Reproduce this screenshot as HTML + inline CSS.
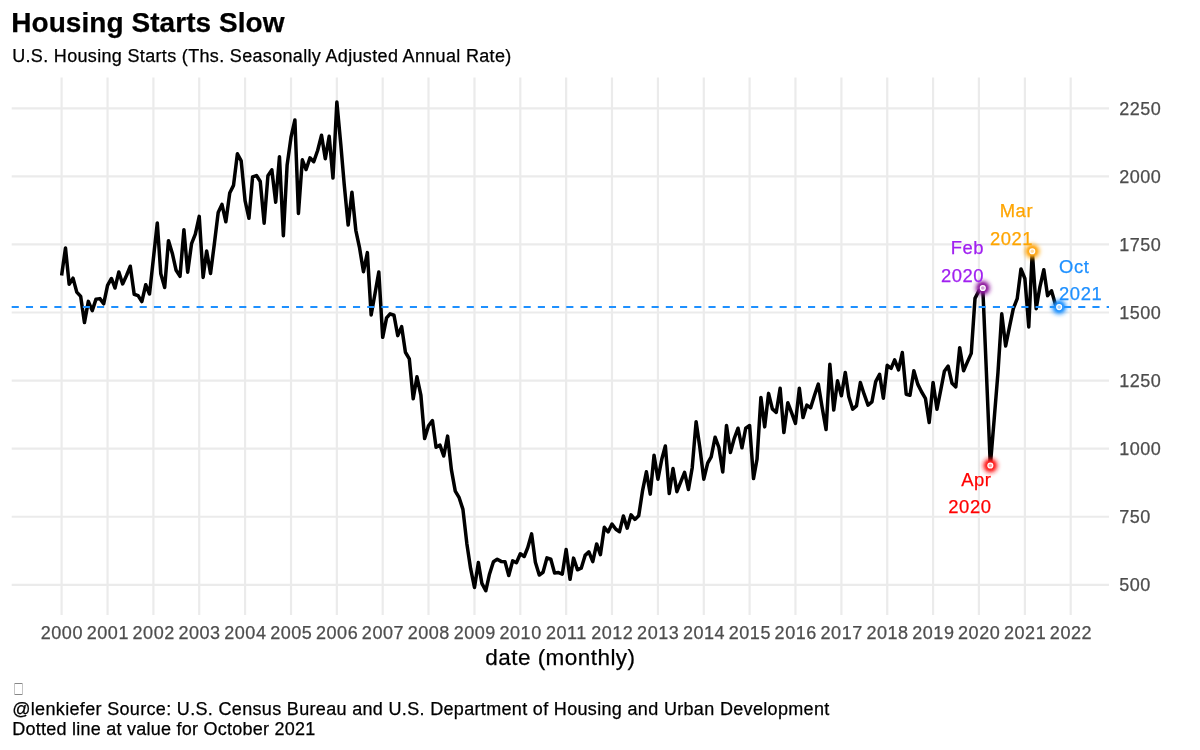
<!DOCTYPE html>
<html><head><meta charset="utf-8"><style>
html,body{margin:0;padding:0;background:#fff;}
body{width:1200px;height:750px;overflow:hidden;position:relative;font-family:"Liberation Sans",sans-serif;}
svg{position:absolute;left:0;top:0;will-change:transform;}
svg text{font-family:"Liberation Sans",sans-serif;stroke:currentColor;stroke-width:0.25px;}
</style></head><body>
<svg width="1200" height="750" viewBox="0 0 1200 750">
<defs><filter id="blur" x="-80%" y="-80%" width="260%" height="260%"><feGaussianBlur stdDeviation="0.9"/></filter><filter id="blur2" x="-80%" y="-80%" width="260%" height="260%"><feGaussianBlur stdDeviation="2.2"/></filter></defs>
<rect width="1200" height="750" fill="#fff"/>
<text x="11.20" y="31.70" font-size="28" letter-spacing="0.06" fill="#000" color="#000" font-weight="bold">Housing Starts Slow</text>
<text x="12.20" y="62.00" font-size="18" letter-spacing="0.33" fill="#000" color="#000">U.S. Housing Starts (Ths. Seasonally Adjusted Annual Rate)</text>
<g stroke="#EBEBEB" stroke-width="2.2"><line x1="61.60" y1="77.5" x2="61.60" y2="615"/><line x1="107.56" y1="77.5" x2="107.56" y2="615"/><line x1="153.39" y1="77.5" x2="153.39" y2="615"/><line x1="199.23" y1="77.5" x2="199.23" y2="615"/><line x1="245.06" y1="77.5" x2="245.06" y2="615"/><line x1="291.02" y1="77.5" x2="291.02" y2="615"/><line x1="336.85" y1="77.5" x2="336.85" y2="615"/><line x1="382.69" y1="77.5" x2="382.69" y2="615"/><line x1="428.52" y1="77.5" x2="428.52" y2="615"/><line x1="474.48" y1="77.5" x2="474.48" y2="615"/><line x1="520.32" y1="77.5" x2="520.32" y2="615"/><line x1="566.15" y1="77.5" x2="566.15" y2="615"/><line x1="611.98" y1="77.5" x2="611.98" y2="615"/><line x1="657.94" y1="77.5" x2="657.94" y2="615"/><line x1="703.78" y1="77.5" x2="703.78" y2="615"/><line x1="749.61" y1="77.5" x2="749.61" y2="615"/><line x1="795.45" y1="77.5" x2="795.45" y2="615"/><line x1="841.40" y1="77.5" x2="841.40" y2="615"/><line x1="887.24" y1="77.5" x2="887.24" y2="615"/><line x1="933.07" y1="77.5" x2="933.07" y2="615"/><line x1="978.91" y1="77.5" x2="978.91" y2="615"/><line x1="1024.87" y1="77.5" x2="1024.87" y2="615"/><line x1="1070.70" y1="77.5" x2="1070.70" y2="615"/><line x1="11.7" y1="584.80" x2="1109" y2="584.80"/><line x1="11.7" y1="516.73" x2="1109" y2="516.73"/><line x1="11.7" y1="448.65" x2="1109" y2="448.65"/><line x1="11.7" y1="380.58" x2="1109" y2="380.58"/><line x1="11.7" y1="312.51" x2="1109" y2="312.51"/><line x1="11.7" y1="244.44" x2="1109" y2="244.44"/><line x1="11.7" y1="176.37" x2="1109" y2="176.37"/><line x1="11.7" y1="108.29" x2="1109" y2="108.29"/></g>
<text x="1119.20" y="591.20" font-size="18" letter-spacing="0.55" fill="#4D4D4D" color="#4D4D4D">500</text><text x="1119.20" y="523.13" font-size="18" letter-spacing="0.55" fill="#4D4D4D" color="#4D4D4D">750</text><text x="1119.20" y="455.05" font-size="18" letter-spacing="0.55" fill="#4D4D4D" color="#4D4D4D">1000</text><text x="1119.20" y="386.98" font-size="18" letter-spacing="0.55" fill="#4D4D4D" color="#4D4D4D">1250</text><text x="1119.20" y="318.91" font-size="18" letter-spacing="0.55" fill="#4D4D4D" color="#4D4D4D">1500</text><text x="1119.20" y="250.84" font-size="18" letter-spacing="0.55" fill="#4D4D4D" color="#4D4D4D">1750</text><text x="1119.20" y="182.77" font-size="18" letter-spacing="0.55" fill="#4D4D4D" color="#4D4D4D">2000</text><text x="1119.20" y="114.69" font-size="18" letter-spacing="0.55" fill="#4D4D4D" color="#4D4D4D">2250</text>
<text x="61.88" y="639.20" font-size="18" letter-spacing="0.55" fill="#4D4D4D" color="#4D4D4D" text-anchor="middle">2000</text><text x="107.83" y="639.20" font-size="18" letter-spacing="0.55" fill="#4D4D4D" color="#4D4D4D" text-anchor="middle">2001</text><text x="153.67" y="639.20" font-size="18" letter-spacing="0.55" fill="#4D4D4D" color="#4D4D4D" text-anchor="middle">2002</text><text x="199.50" y="639.20" font-size="18" letter-spacing="0.55" fill="#4D4D4D" color="#4D4D4D" text-anchor="middle">2003</text><text x="245.34" y="639.20" font-size="18" letter-spacing="0.55" fill="#4D4D4D" color="#4D4D4D" text-anchor="middle">2004</text><text x="291.30" y="639.20" font-size="18" letter-spacing="0.55" fill="#4D4D4D" color="#4D4D4D" text-anchor="middle">2005</text><text x="337.13" y="639.20" font-size="18" letter-spacing="0.55" fill="#4D4D4D" color="#4D4D4D" text-anchor="middle">2006</text><text x="382.96" y="639.20" font-size="18" letter-spacing="0.55" fill="#4D4D4D" color="#4D4D4D" text-anchor="middle">2007</text><text x="428.80" y="639.20" font-size="18" letter-spacing="0.55" fill="#4D4D4D" color="#4D4D4D" text-anchor="middle">2008</text><text x="474.76" y="639.20" font-size="18" letter-spacing="0.55" fill="#4D4D4D" color="#4D4D4D" text-anchor="middle">2009</text><text x="520.59" y="639.20" font-size="18" letter-spacing="0.55" fill="#4D4D4D" color="#4D4D4D" text-anchor="middle">2010</text><text x="566.42" y="639.20" font-size="18" letter-spacing="0.55" fill="#4D4D4D" color="#4D4D4D" text-anchor="middle">2011</text><text x="612.26" y="639.20" font-size="18" letter-spacing="0.55" fill="#4D4D4D" color="#4D4D4D" text-anchor="middle">2012</text><text x="658.22" y="639.20" font-size="18" letter-spacing="0.55" fill="#4D4D4D" color="#4D4D4D" text-anchor="middle">2013</text><text x="704.05" y="639.20" font-size="18" letter-spacing="0.55" fill="#4D4D4D" color="#4D4D4D" text-anchor="middle">2014</text><text x="749.89" y="639.20" font-size="18" letter-spacing="0.55" fill="#4D4D4D" color="#4D4D4D" text-anchor="middle">2015</text><text x="795.72" y="639.20" font-size="18" letter-spacing="0.55" fill="#4D4D4D" color="#4D4D4D" text-anchor="middle">2016</text><text x="841.68" y="639.20" font-size="18" letter-spacing="0.55" fill="#4D4D4D" color="#4D4D4D" text-anchor="middle">2017</text><text x="887.51" y="639.20" font-size="18" letter-spacing="0.55" fill="#4D4D4D" color="#4D4D4D" text-anchor="middle">2018</text><text x="933.35" y="639.20" font-size="18" letter-spacing="0.55" fill="#4D4D4D" color="#4D4D4D" text-anchor="middle">2019</text><text x="979.18" y="639.20" font-size="18" letter-spacing="0.55" fill="#4D4D4D" color="#4D4D4D" text-anchor="middle">2020</text><text x="1025.14" y="639.20" font-size="18" letter-spacing="0.55" fill="#4D4D4D" color="#4D4D4D" text-anchor="middle">2021</text><text x="1070.98" y="639.20" font-size="18" letter-spacing="0.55" fill="#4D4D4D" color="#4D4D4D" text-anchor="middle">2022</text>
<text x="560.43" y="664.70" font-size="22.5" letter-spacing="0.45" fill="#000" color="#000" text-anchor="middle">date (monthly)</text>
<path d="M61.60,275.48 L65.49,247.98 L69.13,284.19 L73.03,278.20 L76.79,292.09 L80.69,296.44 L84.45,322.58 L88.35,301.35 L92.24,310.60 L96.01,299.17 L99.90,298.62 L103.67,303.80 L107.56,285.28 L111.45,278.47 L114.97,288.00 L118.86,271.94 L122.63,283.92 L126.52,275.48 L130.29,266.22 L134.18,294.27 L138.07,295.63 L141.84,301.62 L145.73,284.74 L149.50,293.99 L153.39,258.60 L157.29,222.93 L160.80,273.84 L164.69,287.46 L168.46,240.63 L172.35,253.42 L176.12,270.31 L180.01,276.30 L183.91,229.73 L187.67,272.21 L191.57,243.62 L195.33,234.09 L199.23,216.39 L203.12,277.38 L206.64,250.97 L210.53,273.57 L214.30,244.17 L218.19,212.58 L221.96,204.41 L225.85,221.84 L229.74,192.97 L233.51,185.35 L237.40,153.76 L241.17,160.84 L245.06,200.60 L248.95,218.30 L252.60,176.91 L256.49,175.55 L260.26,181.54 L264.15,223.20 L267.92,175.82 L271.81,169.83 L275.70,202.23 L279.47,156.76 L283.36,235.72 L287.13,164.93 L291.02,137.16 L294.91,120.00 L298.43,213.40 L302.32,159.76 L306.09,169.56 L309.98,157.85 L313.75,161.66 L317.64,150.50 L321.53,135.25 L325.30,158.67 L329.19,136.34 L332.96,178.00 L336.85,102.03 L340.75,143.96 L344.26,184.81 L348.16,225.10 L351.92,192.16 L355.82,230.28 L359.58,247.98 L363.48,271.67 L367.37,252.61 L371.14,314.96 L375.03,293.45 L378.80,271.94 L382.69,337.29 L386.58,317.96 L390.10,313.87 L393.99,315.23 L397.76,335.65 L401.65,326.67 L405.42,352.26 L409.31,358.80 L413.20,398.83 L416.97,376.77 L420.86,395.01 L424.63,438.58 L428.52,425.78 L432.42,420.61 L436.06,447.29 L439.95,445.12 L443.72,456.01 L447.61,436.13 L451.38,469.62 L455.27,491.13 L459.16,497.67 L462.93,509.38 L466.82,543.41 L470.59,568.46 L474.48,587.52 L478.37,562.47 L481.89,583.44 L485.78,590.79 L489.55,573.91 L493.44,561.66 L497.21,559.20 L501.10,561.38 L505.00,561.66 L508.76,575.54 L512.66,560.84 L516.42,562.74 L520.32,553.76 L524.21,556.48 L527.72,547.77 L531.62,533.88 L535.38,562.20 L539.28,575.00 L543.04,572.27 L546.94,557.84 L550.83,559.20 L554.60,573.09 L558.49,572.55 L562.26,574.18 L566.15,549.40 L570.04,579.35 L573.56,558.12 L577.45,569.82 L581.22,568.19 L585.11,555.39 L588.88,551.85 L592.77,561.66 L596.66,543.96 L600.43,554.58 L604.32,527.35 L608.09,531.98 L611.98,524.08 L615.88,529.25 L619.52,531.70 L623.41,515.91 L627.18,528.16 L631.07,514.82 L634.84,519.45 L638.73,515.64 L642.62,490.32 L646.39,471.80 L650.28,494.13 L654.05,455.19 L657.94,479.15 L661.84,459.00 L665.35,445.93 L669.24,493.58 L673.01,468.53 L676.90,491.68 L680.67,482.15 L684.56,472.34 L688.46,489.50 L692.22,467.72 L696.12,421.70 L699.88,447.84 L703.78,479.15 L707.67,463.09 L711.19,456.82 L715.08,437.22 L718.85,447.29 L722.74,472.07 L726.51,425.51 L730.40,452.47 L734.29,438.31 L738.06,428.23 L741.95,447.84 L745.72,428.23 L749.61,425.51 L753.50,478.61 L757.02,459.27 L760.91,397.46 L764.68,426.87 L768.57,393.38 L772.34,408.90 L776.23,412.44 L780.13,388.21 L783.89,432.59 L787.79,402.64 L791.55,412.71 L795.45,423.33 L799.34,388.21 L802.98,417.61 L806.87,405.09 L810.64,407.81 L814.53,395.29 L818.30,384.12 L822.19,407.81 L826.08,429.59 L829.85,364.25 L833.74,409.99 L837.51,380.85 L841.40,395.83 L845.30,372.41 L848.81,396.65 L852.71,409.17 L856.47,405.91 L860.37,382.49 L864.13,394.20 L868.03,405.09 L871.92,401.82 L875.69,381.67 L879.58,374.32 L883.35,398.28 L887.24,365.33 L891.13,368.33 L894.65,359.89 L898.54,369.96 L902.31,352.54 L906.20,394.20 L909.97,395.29 L913.86,370.78 L917.75,384.12 L921.52,391.75 L925.41,398.28 L929.18,422.52 L933.07,382.49 L936.97,409.17 L940.48,391.47 L944.37,371.32 L948.14,366.15 L952.03,383.31 L955.80,386.85 L959.69,347.64 L963.59,370.78 L967.35,362.07 L971.25,353.35 L975.01,298.35 L978.91,290.73 L982.80,288.00 L986.44,373.23 L990.33,465.54 L994.10,420.06 L997.99,372.41 L1001.76,313.87 L1005.65,346.00 L1009.55,326.67 L1013.31,308.70 L1017.21,298.62 L1020.97,268.94 L1024.87,278.47 L1028.76,326.94 L1032.27,251.24 L1036.17,308.70 L1039.93,286.91 L1043.83,269.76 L1047.59,295.63 L1051.49,290.73 L1055.38,304.34 L1059.15,307.06" fill="none" stroke="#000" stroke-width="3.5" stroke-linejoin="round"/>
<line x1="11.7" y1="307.06" x2="1109" y2="307.06" stroke="#1E90FF" stroke-width="2.1" stroke-dasharray="7.11 7.11"/>
<circle cx="982.80" cy="288.00" r="7.2" fill="#8E1C9E" fill-opacity="0.95" filter="url(#blur2)"/><circle cx="982.80" cy="288.00" r="4.6" fill="#8E1C9E" filter="url(#blur)"/><circle cx="982.80" cy="288.00" r="2.45" fill="#fff" fill-opacity="0.6" stroke="#fff" stroke-width="1.25"/><circle cx="990.33" cy="465.54" r="7.2" fill="#FF1A1A" fill-opacity="0.95" filter="url(#blur2)"/><circle cx="990.33" cy="465.54" r="4.6" fill="#FF1A1A" filter="url(#blur)"/><circle cx="990.33" cy="465.54" r="2.45" fill="#fff" fill-opacity="0.6" stroke="#fff" stroke-width="1.25"/><circle cx="1032.27" cy="251.24" r="7.2" fill="#FFA510" fill-opacity="0.95" filter="url(#blur2)"/><circle cx="1032.27" cy="251.24" r="4.6" fill="#FFA510" filter="url(#blur)"/><circle cx="1032.27" cy="251.24" r="2.45" fill="#fff" fill-opacity="0.6" stroke="#fff" stroke-width="1.25"/><circle cx="1059.15" cy="307.06" r="7.2" fill="#1E90FF" fill-opacity="0.95" filter="url(#blur2)"/><circle cx="1059.15" cy="307.06" r="4.6" fill="#1E90FF" filter="url(#blur)"/><circle cx="1059.15" cy="307.06" r="2.45" fill="#fff" fill-opacity="0.6" stroke="#fff" stroke-width="1.25"/>
<text x="984.20" y="254.00" font-size="18.4" letter-spacing="0.6" fill="#A020F0" color="#A020F0" text-anchor="end">Feb</text><text x="984.20" y="281.60" font-size="18.4" letter-spacing="0.6" fill="#A020F0" color="#A020F0" text-anchor="end">2020</text><text x="1033.20" y="217.20" font-size="18.4" letter-spacing="0.6" fill="#FFA500" color="#FFA500" text-anchor="end">Mar</text><text x="1033.20" y="244.50" font-size="18.4" letter-spacing="0.6" fill="#FFA500" color="#FFA500" text-anchor="end">2021</text><text x="1059.00" y="272.80" font-size="18.4" letter-spacing="0.6" fill="#1E90FF" color="#1E90FF">Oct</text><text x="1059.00" y="300.40" font-size="18.4" letter-spacing="0.6" fill="#1E90FF" color="#1E90FF">2021</text><text x="991.60" y="485.90" font-size="18.4" letter-spacing="0.6" fill="#FF0000" color="#FF0000" text-anchor="end">Apr</text><text x="991.60" y="513.40" font-size="18.4" letter-spacing="0.6" fill="#FF0000" color="#FF0000" text-anchor="end">2020</text>
<g shape-rendering="crispEdges"><rect x="14" y="683" width="9" height="1" fill="#888"/><rect x="14" y="694" width="9" height="1" fill="#888"/><rect x="14" y="683" width="1" height="11.5" fill="#c4c4c4"/><rect x="22" y="683" width="1" height="11.5" fill="#c4c4c4"/></g>
<text x="12.20" y="714.80" font-size="18" letter-spacing="0.33" fill="#000" color="#000">@lenkiefer Source: U.S. Census Bureau and U.S. Department of Housing and Urban Development</text>
<text x="12.20" y="734.90" font-size="18" letter-spacing="0.25" fill="#000" color="#000">Dotted line at value for October 2021</text>
</svg>
</body></html>
